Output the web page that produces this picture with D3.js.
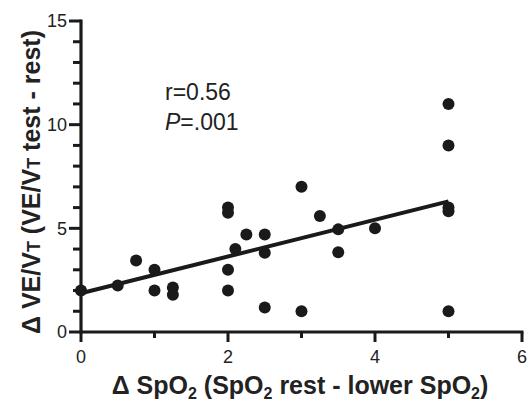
<!DOCTYPE html>
<html><head><meta charset="utf-8">
<script src="https://cdn.jsdelivr.net/npm/d3@7"></script>
<style>body{margin:0;background:#fff}svg{display:block}text{font-family:Arial,"Liberation Sans",sans-serif;fill:#222}</style>
</head><body>
<script>
const xValues = [0,0.5,0.75,1,1,1.25,1.25,2,2,2,2,2.1,2.25,2.5,2.5,2.5,3,3,3.25,3.5,3.5,4,5,5,5,5,5];
const yValues = [2.0,2.24,3.45,3.0,2.0,2.15,1.8,6.0,5.75,3.0,2.0,4.0,4.7,4.7,3.82,1.18,7.0,1.0,5.6,4.95,3.85,5.0,11.0,9.0,6.0,5.82,1.0];
const fitX = [0,5];
const fitY = [1.87,6.3];
const xTickLabels = [0,2,4,6];
const yTickLabels = [0,5,10,15];

const W=529,H=405;
const svg=d3.select("body").append("svg").attr("width",W).attr("height",H);
const x=d3.scaleLinear().domain([0,6]).range([81,522]);
const y=d3.scaleLinear().domain([0,15]).range([332,21]);
const ink="#1a1a1a";

const g=svg.append("g");
g.append("line").attr("x1",x(0)).attr("x2",x(0)).attr("y1",y(15)-1.5).attr("y2",y(0)+1.5).attr("stroke",ink).attr("stroke-width",3.2);
g.append("line").attr("x1",x(0)-1.5).attr("x2",x(6)+1.5).attr("y1",y(0)).attr("y2",y(0)).attr("stroke",ink).attr("stroke-width",3.2);
d3.range(0,16).forEach(v=>{
  const major=yTickLabels.includes(v);
  g.append("line").attr("x1",x(0)).attr("x2",x(0)-(major?12:8)).attr("y1",y(v)).attr("y2",y(v)).attr("stroke",ink).attr("stroke-width",3);
});
yTickLabels.forEach(v=>{
  g.append("text").attr("x",x(0)-14).attr("y",y(v)).attr("dy","0.36em").attr("text-anchor","end").attr("font-size",18).text(v);
});
d3.range(0,7).forEach(v=>{
  const major=xTickLabels.includes(v);
  g.append("line").attr("x1",x(v)).attr("x2",x(v)).attr("y1",y(0)).attr("y2",y(0)+(major?10:6)).attr("stroke",ink).attr("stroke-width",3);
});
xTickLabels.forEach(v=>{
  g.append("text").attr("x",x(v)).attr("y",y(0)+31).attr("text-anchor","middle").attr("font-size",18).text(v);
});

svg.append("line").attr("x1",x(fitX[0])).attr("y1",y(fitY[0])).attr("x2",x(fitX[1])).attr("y2",y(fitY[1])).attr("stroke",ink).attr("stroke-width",4);

svg.selectAll("circle.pt").data(xValues.map((v,i)=>[v,yValues[i]])).enter().append("circle")
 .attr("cx",d=>x(d[0])).attr("cy",d=>y(d[1])).attr("r",6).attr("fill",ink);

svg.append("text").attr("x",165).attr("y",100).attr("font-size",23).text("r=0.56");
const pt=svg.append("text").attr("x",165).attr("y",130).attr("font-size",23);
pt.append("tspan").attr("font-style","italic").text("P");
pt.append("tspan").text("=.001");

const xt=svg.append("text").attr("x",300).attr("y",394).attr("text-anchor","middle").attr("font-size",25).attr("font-weight","bold");
xt.append("tspan").text("Δ SpO");
xt.append("tspan").attr("font-size",16).attr("dy",5).text("2");
xt.append("tspan").attr("dy",-5).text(" (SpO");
xt.append("tspan").attr("font-size",16).attr("dy",5).text("2");
xt.append("tspan").attr("dy",-5).text(" rest - lower SpO");
xt.append("tspan").attr("font-size",16).attr("dy",5).text("2");
xt.append("tspan").attr("dy",-5).text(")");

const yt=svg.append("text").attr("transform","translate(40,182) rotate(-90)").attr("text-anchor","middle").attr("font-size",25).attr("font-weight","bold");
yt.append("tspan").text("Δ VE/V");
yt.append("tspan").attr("font-size",18).text("T");
yt.append("tspan").text(" (VE/V");
yt.append("tspan").attr("font-size",18).text("T");
yt.append("tspan").text(" test - rest)");
</script>
</body></html>
